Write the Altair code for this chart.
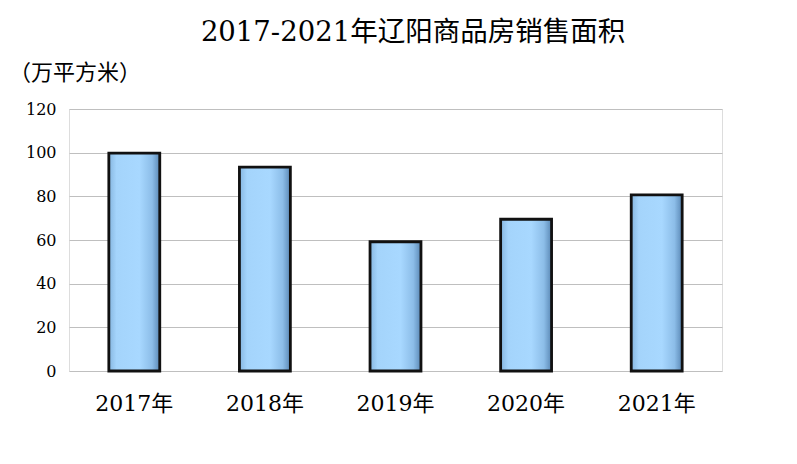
import altair as alt
import pandas as pd

years = ["2017年", "2018年", "2019年", "2020年", "2021年"]
areas = [99.8, 93.4, 59.2, 69.5, 80.7]
title_text = "2017-2021年辽阳商品房销售面积"
unit_text = "（万平方米）"
y_ticks = [0, 20, 40, 60, 80, 100, 120]

df = pd.DataFrame({"year": years, "area": areas})

FONT = "DejaVu Serif, Noto Sans CJK SC"

grad = alt.Gradient(
    gradient="linear",
    stops=[
        alt.GradientStop(color="#86b6e0", offset=0),
        alt.GradientStop(color="#a4d4fb", offset=0.15),
        alt.GradientStop(color="#a8d8ff", offset=0.6),
        alt.GradientStop(color="#8cbde8", offset=0.85),
        alt.GradientStop(color="#5a88b5", offset=1),
    ],
    x1=0, x2=1, y1=0, y2=0,
)

bars = alt.Chart(df).mark_bar(
    color=grad, stroke="#111111", strokeWidth=2.8
).encode(
    x=alt.X(
        "year:N",
        sort=years,
        scale=alt.Scale(paddingInner=0.61, paddingOuter=0.305),
        axis=alt.Axis(
            title=None, labelAngle=0, labelFont=FONT, labelFontSize=22,
            labelColor="#000000", labelPadding=22, ticks=False, domain=False,
        ),
    ),
    y=alt.Y(
        "area:Q",
        scale=alt.Scale(domain=[0, 120], nice=False),
        axis=alt.Axis(
            title=None, values=y_ticks, labelFont=FONT, labelFontSize=16,
            labelColor="#000000", labelPadding=13, ticks=False, domain=False,
            gridColor="#bfbfbf", gridWidth=1,
        ),
    ),
)

title_layer = alt.Chart(pd.DataFrame({"t": [title_text]})).mark_text(
    font=FONT, fontSize=27.5, color="#000000", align="center", baseline="middle"
).encode(x=alt.value(344), y=alt.value(-76), text="t:N")

unit_layer = alt.Chart(pd.DataFrame({"t": [unit_text]})).mark_text(
    font="Noto Sans CJK SC", fontSize=22, color="#000000", align="left", baseline="middle"
).encode(x=alt.value(-60), y=alt.value(-36), text="t:N")

chart = alt.layer(bars, title_layer, unit_layer).properties(
    width=653, height=262,
    autosize=alt.AutoSizeParams(type="none"),
    padding={"left": 61, "top": 101, "right": 60, "bottom": 85},
).configure_view(stroke="#a0a0a0", strokeWidth=1).configure(background="white")

chart.save("out.html", embed_options={"renderer": "svg", "actions": False})
